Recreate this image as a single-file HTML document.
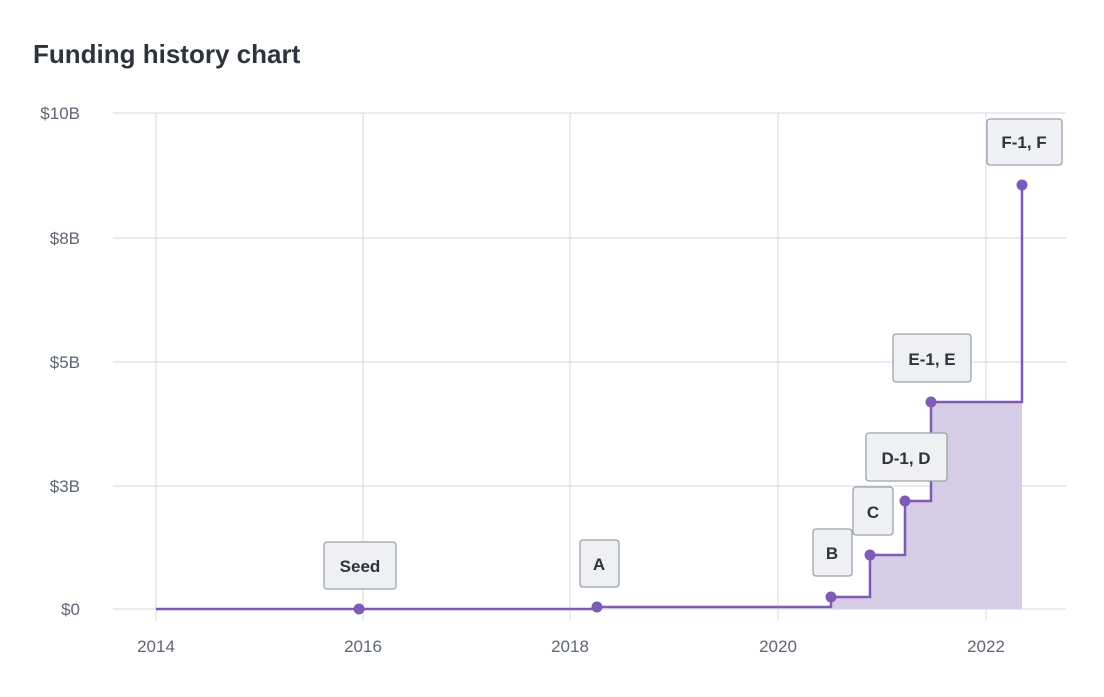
<!DOCTYPE html>
<html><head><style>
body{margin:0;background:#fff;width:1104px;height:692px;overflow:hidden;font-family:"Liberation Sans",sans-serif}
</style></head><body>
<svg width="1104" height="692" xmlns="http://www.w3.org/2000/svg" font-family="Liberation Sans, sans-serif">
<text x="33" y="63" font-size="26" font-weight="bold" fill="#2d3440">Funding history chart</text>
<g stroke="#d5d9e0" stroke-width="1">
<line x1="113" y1="113" x2="1066" y2="113"/><line x1="113" y1="238" x2="1066" y2="238"/>
<line x1="113" y1="362" x2="1066" y2="362"/><line x1="113" y1="486" x2="1066" y2="486"/>
<line x1="113" y1="609" x2="1066" y2="609"/>
<line x1="156" y1="113" x2="156" y2="621"/><line x1="363" y1="113" x2="363" y2="621"/>
<line x1="570" y1="113" x2="570" y2="621"/><line x1="778" y1="113" x2="778" y2="621"/>
<line x1="986" y1="113" x2="986" y2="621"/>
</g>
<g font-size="17" fill="#5f6673" text-anchor="end">
<text x="80" y="119">$10B</text><text x="80" y="244">$8B</text><text x="80" y="368">$5B</text><text x="80" y="492">$3B</text><text x="80" y="615">$0</text>
</g>
<g font-size="17" fill="#5f6673" text-anchor="middle">
<text x="156" y="652">2014</text><text x="363" y="652">2016</text><text x="570" y="652">2018</text><text x="778" y="652">2020</text><text x="986" y="652">2022</text>
</g>
<path d="M831 609 L831 597 L870 597 L870 555 L905 555 L905 501 L931 501 L931 402 L1022 402 L1022 609 Z" fill="#d6cce6"/>
<path d="M156 609 L597 609 L597 607 L831 607 L831 597 L870 597 L870 555 L905 555 L905 501 L931 501 L931 402 L1022 402 L1022 185" fill="none" stroke="#7f5bb8" stroke-width="2.5"/>
<g fill="#7f5bb8">
<circle cx="359" cy="609" r="5.5"/><circle cx="597" cy="607" r="5.5"/><circle cx="831" cy="597" r="5.5"/>
<circle cx="870" cy="555" r="5.5"/><circle cx="905" cy="501" r="5.5"/><circle cx="931" cy="402" r="5.5"/><circle cx="1022" cy="185" r="5.5"/>
</g>
<g fill="#eef0f3" stroke="#9aa2ae" stroke-width="1.3">
<rect x="324" y="542" width="72" height="47" rx="3"/>
<rect x="580" y="540" width="39" height="47" rx="3"/>
<rect x="813" y="529" width="39" height="47" rx="3"/>
<rect x="853" y="487" width="40" height="48" rx="3"/>
<rect x="866" y="433" width="81" height="48" rx="3"/>
<rect x="893" y="334" width="78" height="48" rx="3"/>
<rect x="987" y="119" width="75" height="46" rx="3"/>
</g>
<g font-size="17" font-weight="bold" fill="#2d3440" text-anchor="middle">
<text x="360" y="572">Seed</text><text x="599" y="570">A</text><text x="832" y="559">B</text>
<text x="873" y="518">C</text><text x="906" y="464">D-1, D</text><text x="932" y="365">E-1, E</text><text x="1024" y="148">F-1, F</text>
</g>
</svg>
</body></html>
